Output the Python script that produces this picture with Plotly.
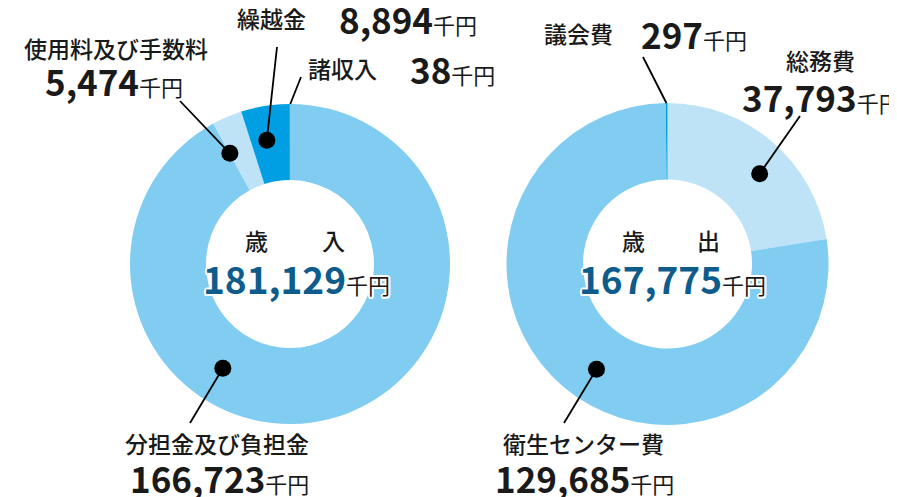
import math
import plotly.graph_objects as go

W, H = 897, 497
OFF = 8  # page body margin offset of the figure inside the browser window

# ---------------- data ----------------
rev_labels = ["分担金及び負担金", "使用料及び手数料", "繰越金", "諸収入"]
rev_values = [166723, 5474, 8894, 38]
rev_total = 181129

exp_labels = ["総務費", "衛生センター費", "議会費"]
exp_values = [37793, 129685, 297]
exp_total = 167775

# ---------------- styles ----------------
rev_colors = ["#80CDF1", "#BEE3F7", "#009FE3", "#009FE3"]
exp_colors = ["#BEE3F7", "#80CDF1", "#009FE3"]
FONT = "Noto Sans CJK JP"
TXT = "#1a1a1a"
NUM_BLUE = "#0D5C8C"


def fx(x):
    return (x - OFF) / W


def fy(y):
    return 1 - (y - OFF) / H


# donut geometry (window pixels)
L_C, L_R = (290, 264), 160
R_C, R_R = (667.5, 264), 161
HOLE = 0.525

fig = go.Figure()


def add_pie(labels, values, colors, center, r):
    cx, cy = center
    fig.add_trace(go.Pie(
        labels=labels, values=values, sort=False, direction="clockwise",
        rotation=0, hole=HOLE, textinfo="none", hoverinfo="label+value",
        marker=dict(colors=colors, line=dict(width=0)),
        domain=dict(x=[fx(cx - r), fx(cx + r)], y=[fy(cy + r), fy(cy - r)]),
        showlegend=False,
    ))


add_pie(rev_labels, rev_values, rev_colors, L_C, L_R)
add_pie(exp_labels, exp_values, exp_colors, R_C, R_R)

shapes = []
annotations = []


def pt(center, ang, r):
    cx, cy = center
    a = math.radians(ang)
    return cx + r * math.sin(a), cy - r * math.cos(a)


def leader(start, end, dot=True):
    sx, sy = start
    ex, ey = end
    shapes.append(dict(type="line", xref="paper", yref="paper",
                       x0=fx(sx), y0=fy(sy), x1=fx(ex), y1=fy(ey),
                       line=dict(color="black", width=1.8), layer="above"))
    if dot:
        rd = 8.5
        shapes.append(dict(type="circle", xref="paper", yref="paper",
                           x0=fx(sx - rd), x1=fx(sx + rd), y0=fy(sy + rd), y1=fy(sy - rd),
                           fillcolor="black", line=dict(width=0), layer="above"))


# leader lines + dots
leader(pt(L_C, 212.8, 124), (190, 423))
leader(pt(L_C, 331.5, 126), (180, 101))
leader(pt(L_C, 349.4, 126), (277, 47))
leader(pt(L_C, 0.1, L_R), (301, 77), dot=False)
leader(pt(R_C, 214, 127), (564, 423))
leader(pt(R_C, 45.6, 129), (800, 116))
leader(pt(R_C, -0.4, R_R), (643, 57), dot=False)

# tiny mark at right edge
shapes.append(dict(type="line", xref="paper", yref="paper",
                   x0=fx(893), x1=fx(893), y0=fy(293), y1=fy(299),
                   line=dict(color="black", width=3), layer="above"))


def fmt(v):
    return f"{v:,}"


def label(text, x, y, size=23, anchor="center"):
    annotations.append(dict(text=text, x=fx(x), y=fy(y), xref="paper", yref="paper",
                            xanchor=anchor, yanchor="middle", showarrow=False,
                            font=dict(family=FONT, size=size, color=TXT, weight=500)))


def value(v, x, y, anchor="center", big=35, small=22):
    txt = (f"<b><span style='font-size:{big}px'>{fmt(v)}</span></b>"
           f"<span style='font-size:{small}px'>千円</span>")
    annotations.append(dict(text=txt, x=fx(x), y=fy(y), xref="paper", yref="paper",
                            xanchor=anchor, yanchor="middle", showarrow=False,
                            font=dict(family=FONT, size=small, color=TXT)))


# left labels
label(rev_labels[1], 116, 48)
value(rev_values[1], 114, 80)
label(rev_labels[2], 271, 18)
value(rev_values[2], 408, 18)
label(rev_labels[3], 342, 68)
value(rev_values[3], 452, 68)
label(rev_labels[0], 217, 443)
value(rev_values[0], 219, 477)

# right labels
label(exp_labels[2], 578, 33)
value(exp_values[2], 694, 33)
label(exp_labels[0], 820, 60)
value(exp_values[0], 740, 97, anchor="left")
label(exp_labels[1], 583, 443)
value(exp_values[1], 584, 477)

# centre texts
SHADOW = ("2px 0 0 #fff, -2px 0 0 #fff, 0 2px 0 #fff, 0 -2px 0 #fff, "
          "1.5px 1.5px 0 #fff, -1.5px -1.5px 0 #fff, 1.5px -1.5px 0 #fff, -1.5px 1.5px 0 #fff")


def center_block(c1, c2, xa, xb, total, xc):
    label(c1, xa, 240)
    label(c2, xb, 240)
    txt = (f"<b><span style='font-size:37px;color:{NUM_BLUE}'>{fmt(total)}</span></b>"
           f"<span style='font-size:22px'>千円</span>")
    annotations.append(dict(text=txt, x=fx(xc), y=fy(278), xref="paper", yref="paper",
                            xanchor="center", yanchor="middle", showarrow=False,
                            font=dict(family=FONT, size=22, color=TXT, shadow=SHADOW)))


center_block("歳", "入", 257, 333, rev_total, 296)
center_block("歳", "出", 633, 708, exp_total, 672)

fig.update_layout(
    width=W, height=H, margin=dict(l=0, r=0, t=0, b=0),
    paper_bgcolor="white", plot_bgcolor="white",
    shapes=shapes, annotations=annotations, showlegend=False,
    font=dict(family=FONT),
)

fig.write_html("out.html")
